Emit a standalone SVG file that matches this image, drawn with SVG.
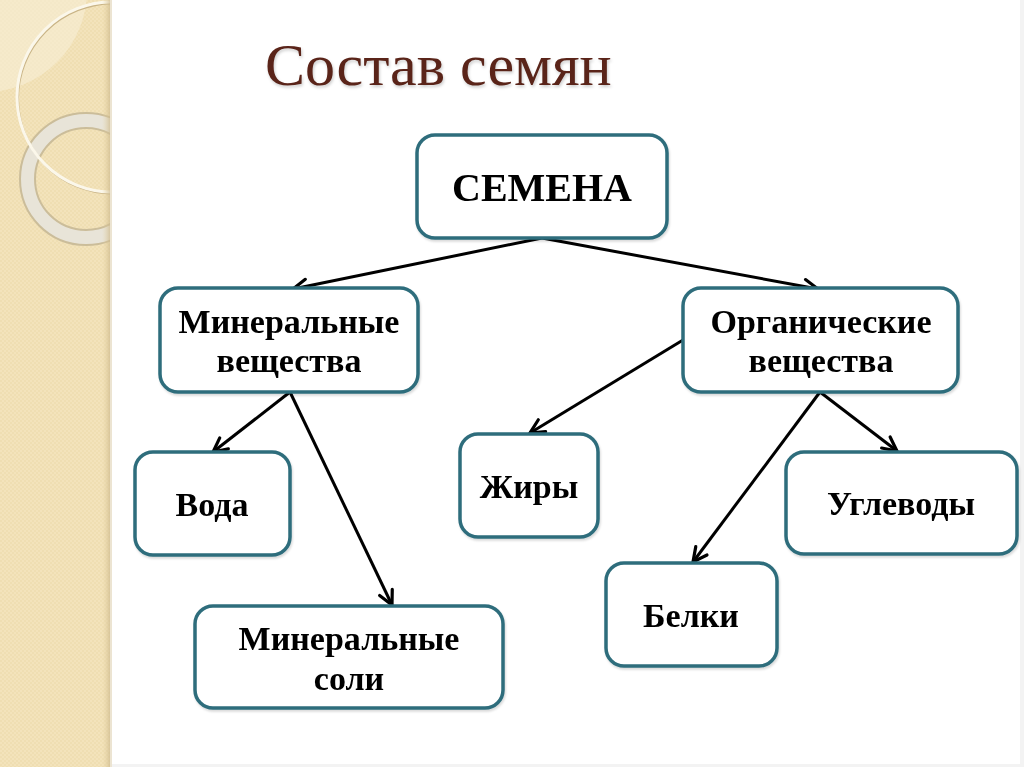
<svg xmlns="http://www.w3.org/2000/svg" width="1024" height="767" viewBox="0 0 1024 767">
  <defs>
    <pattern id="tex" width="4" height="4" patternUnits="userSpaceOnUse">
      <rect width="4" height="4" fill="#f3e3bb"/>
      <rect x="0" y="0" width="2" height="2" fill="#efdeb2"/>
      <rect x="2" y="2" width="2" height="2" fill="#efdeb2"/>
    </pattern>
    <clipPath id="strip"><rect x="0" y="0" width="110" height="767"/></clipPath>
    <linearGradient id="edge" x1="0" x2="1" y1="0" y2="0">
      <stop offset="0" stop-color="#e6d3a4" stop-opacity="0"/>
      <stop offset="1" stop-color="#cdb98c"/>
    </linearGradient>
    <marker id="arr" viewBox="0 0 20 20" refX="17" refY="10" markerWidth="20" markerHeight="20" markerUnits="userSpaceOnUse" orient="auto">
      <path d="M3,3 L17,10 L3,17" fill="none" stroke="#000" stroke-width="3.2" stroke-linecap="round" stroke-linejoin="miter"/>
    </marker>
    <filter id="sh" x="-10%" y="-10%" width="120%" height="130%">
      <feDropShadow dx="1" dy="2" stdDeviation="1.2" flood-color="#000" flood-opacity="0.15"/>
    </filter>
  </defs>
  <style>
    .box { fill: #ffffff; stroke: #2f6d7c; stroke-width: 3.5; }
    .lbl { font-family: "Liberation Serif", "Times New Roman", serif; font-weight: bold; font-size: 34px; fill: #000; text-anchor: middle; }
    .conn line { stroke: #000; stroke-width: 3; }
  </style>

  <!-- background -->
  <rect x="0" y="0" width="1024" height="767" fill="#ffffff"/>
  <rect x="1020" y="0" width="4" height="767" fill="#f3f3f3"/>
  <rect x="0" y="764" width="1024" height="3" fill="#f3f3f3"/>
  <g id="strip-decor" clip-path="url(#strip)">
    <rect x="0" y="0" width="110" height="767" fill="url(#tex)"/>
    <circle cx="-15" cy="-10" r="102" fill="#f7ecd2" opacity="0.7"/>
    <circle cx="86" cy="179" r="58.5" fill="none" stroke="#cbbd9a" stroke-width="17"/>
    <circle cx="86" cy="179" r="58.5" fill="none" stroke="#e8e4d8" stroke-width="13"/>
    <circle cx="113" cy="98.5" r="95" fill="none" stroke="#c9b486" stroke-width="2"/>
    <circle cx="112" cy="97" r="95" fill="none" stroke="#fbf7ea" stroke-width="3"/>
    <rect x="102" y="0" width="8" height="767" fill="url(#edge)" opacity="0.7"/>
  </g>
  <rect x="110" y="0" width="2" height="767" fill="#ece4d2"/>

  <!-- title -->
  <text id="title" x="265" y="85" font-family="Liberation Serif, Times New Roman, serif" font-size="60" fill="#5a2419" style="filter: drop-shadow(1px 2px 1.5px rgba(0,0,0,0.2))">Состав семян</text>

  <!-- connectors -->
  <g id="connectors" class="conn">
    <line x1="542" y1="238" x2="293" y2="289" marker-end="url(#arr)"/>
    <line x1="542" y1="238" x2="818" y2="289" marker-end="url(#arr)"/>
    <line x1="290" y1="392" x2="213" y2="452" marker-end="url(#arr)"/>
    <line x1="290" y1="392" x2="392" y2="605" marker-end="url(#arr)"/>
    <line x1="683" y1="340" x2="530" y2="433" marker-end="url(#arr)"/>
    <line x1="820" y1="392" x2="693" y2="562" marker-end="url(#arr)"/>
    <line x1="820" y1="392" x2="897" y2="451" marker-end="url(#arr)"/>
  </g>

  <!-- nodes -->
  <g id="node-semena" filter="url(#sh)">
    <rect class="box" x="417" y="135" width="250" height="103" rx="18"/>
    <text class="lbl" x="542" y="201" style="font-size:40px">СЕМЕНА</text>
  </g>
  <g id="node-mineral" filter="url(#sh)">
    <rect class="box" x="160" y="288" width="258" height="104" rx="18"/>
    <text class="lbl" x="289" y="333">Минеральные</text>
    <text class="lbl" x="289" y="372">вещества</text>
  </g>
  <g id="node-organic" filter="url(#sh)">
    <rect class="box" x="683" y="288" width="275" height="104" rx="18"/>
    <text class="lbl" x="821" y="333">Органические</text>
    <text class="lbl" x="821" y="372">вещества</text>
  </g>
  <g id="node-voda" filter="url(#sh)">
    <rect class="box" x="135" y="452" width="155" height="103" rx="18"/>
    <text class="lbl" x="212" y="516">Вода</text>
  </g>
  <g id="node-soli" filter="url(#sh)">
    <rect class="box" x="195" y="606" width="308" height="102" rx="18"/>
    <text class="lbl" x="349" y="650">Минеральные</text>
    <text class="lbl" x="349" y="690">соли</text>
  </g>
  <g id="node-zhiry" filter="url(#sh)">
    <rect class="box" x="460" y="434" width="138" height="103" rx="18"/>
    <text class="lbl" x="529" y="498">Жиры</text>
  </g>
  <g id="node-belki" filter="url(#sh)">
    <rect class="box" x="606" y="563" width="171" height="103" rx="18"/>
    <text class="lbl" x="691" y="627">Белки</text>
  </g>
  <g id="node-uglevody" filter="url(#sh)">
    <rect class="box" x="786" y="452" width="231" height="102" rx="18"/>
    <text class="lbl" x="901" y="515">Углеводы</text>
  </g>
</svg>
